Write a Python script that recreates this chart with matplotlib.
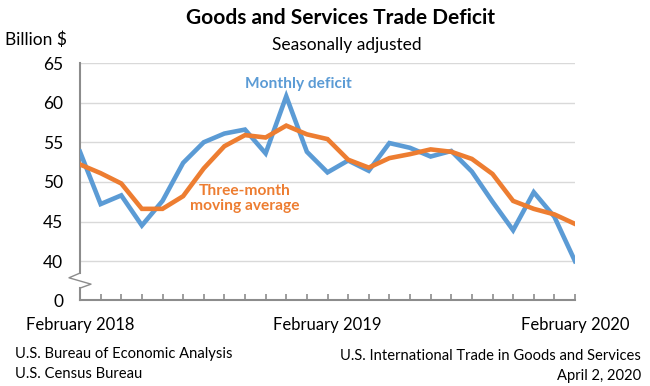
import matplotlib
matplotlib.use("Agg")
import matplotlib.pyplot as plt
import matplotlib.transforms as mtrans
import numpy as np

# months Feb 2018 .. Feb 2020
n_months = 25
monthly = [53.8, 47.2, 48.3, 44.5, 47.6, 52.4, 55.0, 56.1, 56.6, 53.6, 60.8, 53.8,
           51.2, 52.7, 51.4, 54.9, 54.3, 53.2, 53.9, 51.3, 47.5, 43.9, 48.7, 45.6, 40.0]
moving_avg = [52.2, 51.1, 49.8, 46.6, 46.6, 48.2, 51.7, 54.5, 55.9, 55.6, 57.1, 56.0,
              55.4, 52.8, 51.8, 53.0, 53.5, 54.1, 53.8, 52.9, 51.0, 47.6, 46.6, 45.9, 44.7]
x_labels = ["February 2018", "February 2019", "February 2020"]
x_label_pos = [0, 12, 24]
y_ticks = [40, 45, 50, 55, 60, 65]

BLUE = "#5B9BD5"
ORANGE = "#ED7D31"
GRID = "#D9D9D9"
AXIS = "#8C8C8C"
FONT = "Lato"

plt.rcParams["font.family"] = [FONT, "DejaVu Sans"]

fig = plt.figure(figsize=(6.5, 3.86), dpi=100)
ax = fig.add_axes([80 / 650, (386 - 300) / 386, 495 / 650, (300 - 63) / 386])

zero_pos = 35.1  # where the "0" sits below the axis break
x = np.arange(n_months)

ax.set_xlim(0, n_months - 1)
ax.set_ylim(zero_pos, 65)
for v in y_ticks:
    ax.axhline(v, color=GRID, lw=1, zorder=0)

ax.plot(x, monthly, color=BLUE, lw=3.3, solid_joinstyle="miter", zorder=3)
ax.plot(x, moving_avg, color=ORANGE, lw=3.3, solid_joinstyle="miter", zorder=4)

for s in ["top", "right", "left"]:
    ax.spines[s].set_visible(False)
ax.spines["bottom"].set_color(AXIS)
ax.spines["bottom"].set_linewidth(1.5)

ax.set_yticks([zero_pos] + y_ticks)
ax.set_yticklabels(["0"] + [str(v) for v in y_ticks], fontsize=12.5)
ax.tick_params(axis="y", length=0, pad=12)

ax.set_xticks(x)
ax.set_xticklabels([])
ax.tick_params(axis="x", direction="in", length=4, color=AXIS, width=1.2)

# left spine with break
tr = mtrans.blended_transform_factory(ax.transAxes, ax.transData)
dx = 1 / 495
ax.plot([0, 0], [65, 38.5], color=AXIS, lw=1.5, transform=tr, clip_on=False)
ax.plot([0, -11 * dx, 11 * dx, 0], [38.5, 37.9, 37.1, 36.6], color=AXIS, lw=1,
        transform=tr, clip_on=False)
ax.plot([0, 0], [36.6, zero_pos], color=AXIS, lw=1.5, transform=tr, clip_on=False)

xtr = mtrans.blended_transform_factory(ax.transData, ax.transAxes)
for pos, lab in zip(x_label_pos, x_labels):
    ax.text(pos, -0.107, lab, transform=xtr, ha="center", va="center", fontsize=12)

ax.text(10.6, 62.4, "Monthly deficit", color=BLUE, fontsize=11.2, fontweight="bold",
        ha="center", va="center")
ax.text(8.0, 47.9, "Three-month\nmoving average", color=ORANGE, fontsize=11.2,
        fontweight="bold", ha="center", va="center", linespacing=1.15)

fig.text(340 / 650, 1 - 18 / 386, "Goods and Services Trade Deficit", fontsize=15,
         fontweight="bold", ha="center", va="center")
fig.text(347 / 650, 1 - 45 / 386, "Seasonally adjusted", fontsize=12.5, ha="center", va="center")
fig.text(5 / 650, 1 - 40 / 386, "Billion $", fontsize=12.5, ha="left", va="center")

fig.text(15 / 650, 1 - 354 / 386, "U.S. Bureau of Economic Analysis", fontsize=10.6, ha="left", va="center")
fig.text(15 / 650, 1 - 374 / 386, "U.S. Census Bureau", fontsize=10.6, ha="left", va="center")
fig.text(641 / 650, 1 - 356 / 386, "U.S. International Trade in Goods and Services", fontsize=10.6,
         ha="right", va="center")
fig.text(641 / 650, 1 - 376 / 386, "April 2, 2020", fontsize=10.6, ha="right", va="center")

fig.savefig("out.png", dpi=100)
